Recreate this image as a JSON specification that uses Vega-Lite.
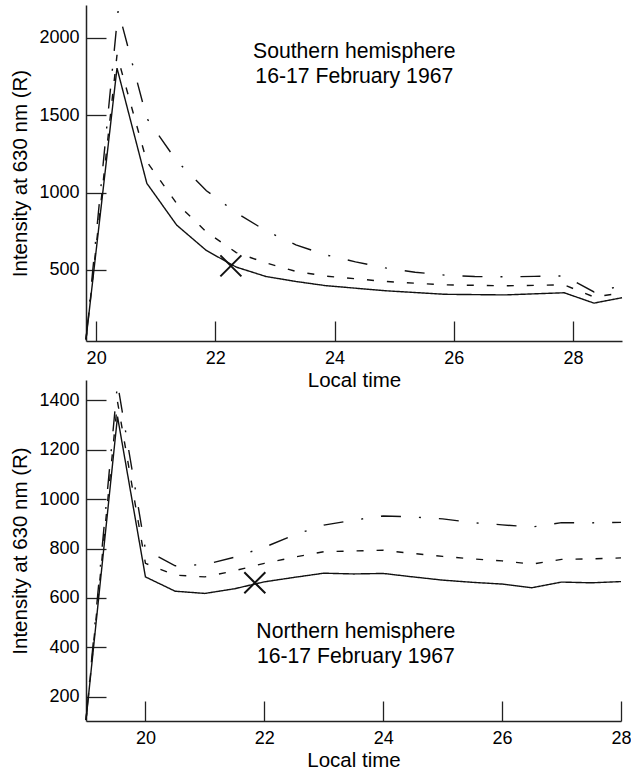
{
  "$schema": "https://vega.github.io/schema/vega-lite/v6.json",
  "padding": {"left": 10, "top": 5, "right": 1, "bottom": 5},
  "background": "white",
  "bounds": "flush",
  "spacing": 39,
  "config": {
    "view": {"stroke": null},
    "font": "Liberation Sans",
    "axis": {
      "grid": false,
      "domainColor": "#222",
      "domainWidth": 1.5,
      "tickColor": "#222",
      "tickWidth": 1.3,
      "tickSize": -20,
      "format": "d",
      "labelFont": "Liberation Sans",
      "labelFontSize": 18,
      "labelColor": "#000",
      "titleFont": "Liberation Sans",
      "titleFontSize": 20.5,
      "titleFontWeight": "normal",
      "titleColor": "#000"
    },
    "axisX": {"labelPadding": 28, "labelFlush": false, "titlePadding": 3},
    "axisY": {"labelPadding": 27, "titlePadding": 8}
  },
  "datasets": {
    "south": [
      {"series": "A", "t": 19.83, "v": 50}, {"series": "A", "t": 20.35, "v": 1805}, {"series": "A", "t": 20.85, "v": 1060},
      {"series": "A", "t": 21.35, "v": 790}, {"series": "A", "t": 21.85, "v": 625}, {"series": "A", "t": 22.35, "v": 518},
      {"series": "A", "t": 22.85, "v": 457}, {"series": "A", "t": 23.35, "v": 425}, {"series": "A", "t": 23.85, "v": 398},
      {"series": "A", "t": 24.85, "v": 365}, {"series": "A", "t": 25.85, "v": 342}, {"series": "A", "t": 26.85, "v": 338},
      {"series": "A", "t": 27.85, "v": 352}, {"series": "A", "t": 28.35, "v": 285}, {"series": "A", "t": 28.82, "v": 320},
      {"series": "B", "t": 19.83, "v": 50}, {"series": "B", "t": 20.35, "v": 1890}, {"series": "B", "t": 20.85, "v": 1200},
      {"series": "B", "t": 21.35, "v": 930}, {"series": "B", "t": 21.85, "v": 745}, {"series": "B", "t": 22.35, "v": 612},
      {"series": "B", "t": 22.85, "v": 545}, {"series": "B", "t": 23.35, "v": 490}, {"series": "B", "t": 23.85, "v": 460},
      {"series": "B", "t": 24.85, "v": 425}, {"series": "B", "t": 25.85, "v": 403}, {"series": "B", "t": 26.85, "v": 397},
      {"series": "B", "t": 27.85, "v": 403}, {"series": "B", "t": 28.35, "v": 325}, {"series": "B", "t": 28.82, "v": 351},
      {"series": "C", "t": 19.83, "v": 50}, {"series": "C", "t": 20.37, "v": 2180}, {"series": "C", "t": 20.85, "v": 1480},
      {"series": "C", "t": 21.35, "v": 1205}, {"series": "C", "t": 21.85, "v": 1012}, {"series": "C", "t": 22.35, "v": 870},
      {"series": "C", "t": 22.85, "v": 752}, {"series": "C", "t": 23.35, "v": 662}, {"series": "C", "t": 23.85, "v": 597},
      {"series": "C", "t": 24.35, "v": 552}, {"series": "C", "t": 24.85, "v": 513}, {"series": "C", "t": 25.35, "v": 485},
      {"series": "C", "t": 25.85, "v": 466}, {"series": "C", "t": 26.35, "v": 457}, {"series": "C", "t": 26.85, "v": 455},
      {"series": "C", "t": 27.35, "v": 458}, {"series": "C", "t": 27.85, "v": 461}, {"series": "C", "t": 28.35, "v": 357},
      {"series": "C", "t": 28.82, "v": 397}
    ],
    "north": [
      {"series": "A", "t": 19.0, "v": 105}, {"series": "A", "t": 19.53, "v": 1335}, {"series": "A", "t": 20.0, "v": 685},
      {"series": "A", "t": 20.5, "v": 627}, {"series": "A", "t": 21.0, "v": 618}, {"series": "A", "t": 21.5, "v": 637},
      {"series": "A", "t": 22.0, "v": 665}, {"series": "A", "t": 22.5, "v": 683}, {"series": "A", "t": 23.0, "v": 700},
      {"series": "A", "t": 23.5, "v": 697}, {"series": "A", "t": 24.0, "v": 699}, {"series": "A", "t": 24.5, "v": 685},
      {"series": "A", "t": 25.0, "v": 672}, {"series": "A", "t": 25.5, "v": 663}, {"series": "A", "t": 26.0, "v": 656},
      {"series": "A", "t": 26.5, "v": 641}, {"series": "A", "t": 27.0, "v": 664}, {"series": "A", "t": 27.5, "v": 661},
      {"series": "A", "t": 28.0, "v": 666},
      {"series": "B", "t": 19.0, "v": 105}, {"series": "B", "t": 19.53, "v": 1395}, {"series": "B", "t": 20.0, "v": 740},
      {"series": "B", "t": 20.5, "v": 692}, {"series": "B", "t": 21.0, "v": 685}, {"series": "B", "t": 21.5, "v": 710},
      {"series": "B", "t": 22.0, "v": 740}, {"series": "B", "t": 22.5, "v": 765}, {"series": "B", "t": 23.0, "v": 787},
      {"series": "B", "t": 23.5, "v": 790}, {"series": "B", "t": 24.0, "v": 793}, {"series": "B", "t": 24.5, "v": 780},
      {"series": "B", "t": 25.0, "v": 768}, {"series": "B", "t": 25.5, "v": 758}, {"series": "B", "t": 26.0, "v": 750},
      {"series": "B", "t": 26.5, "v": 737}, {"series": "B", "t": 27.0, "v": 756}, {"series": "B", "t": 27.5, "v": 758},
      {"series": "B", "t": 28.0, "v": 762},
      {"series": "C", "t": 19.0, "v": 105}, {"series": "C", "t": 19.53, "v": 1470}, {"series": "C", "t": 20.0, "v": 795},
      {"series": "C", "t": 20.5, "v": 730}, {"series": "C", "t": 21.0, "v": 735}, {"series": "C", "t": 21.5, "v": 765},
      {"series": "C", "t": 22.0, "v": 805}, {"series": "C", "t": 22.5, "v": 855}, {"series": "C", "t": 23.0, "v": 895},
      {"series": "C", "t": 23.5, "v": 915}, {"series": "C", "t": 24.0, "v": 932}, {"series": "C", "t": 24.5, "v": 928},
      {"series": "C", "t": 25.0, "v": 920}, {"series": "C", "t": 25.5, "v": 905}, {"series": "C", "t": 26.0, "v": 896},
      {"series": "C", "t": 26.5, "v": 887}, {"series": "C", "t": 27.0, "v": 905}, {"series": "C", "t": 27.5, "v": 904},
      {"series": "C", "t": 28.0, "v": 906}
    ],
    "southMark": [{"t": 22.26, "v": 526}],
    "northMark": [{"t": 21.84, "v": 661}],
    "southText": [
      {"t": 24.33, "v": 1872, "label": "Southern hemisphere"},
      {"t": 24.33, "v": 1710, "label": "16-17 February 1967"}
    ],
    "northText": [
      {"t": 23.54, "v": 436, "label": "Northern hemisphere"},
      {"t": 23.54, "v": 335, "label": "16-17 February 1967"}
    ]
  },
  "vconcat": [
    {
      "width": 536,
      "height": 336,
      "layer": [
        {
          "data": {"name": "south"},
          "mark": {"type": "line", "color": "#111", "strokeWidth": 1.4, "strokeCap": "butt"},
          "encoding": {
            "x": {"field": "t", "type": "quantitative", "title": "Local time",
                  "scale": {"domain": [19.83, 28.82], "nice": false, "zero": false},
                  "axis": {"values": [20, 22, 24, 26, 28]}},
            "y": {"field": "v", "type": "quantitative", "title": "Intensity at 630 nm (R)",
                  "scale": {"domain": [40, 2213], "nice": false, "zero": false},
                  "axis": {"values": [500, 1000, 1500, 2000]}},
            "detail": {"field": "series"},
            "strokeDash": {"field": "series", "legend": null,
                           "scale": {"domain": ["A", "B", "C"], "range": [[1, 0], [7, 13], [20, 18, 2, 18]]}}
          }
        },
        {
          "data": {"name": "southMark"},
          "mark": {"type": "point", "shape": "M-1,-1L1,1M-1,1L1,-1", "size": 441, "filled": false, "stroke": "#111", "strokeWidth": 2, "opacity": 1},
          "encoding": {
            "x": {"field": "t", "type": "quantitative"},
            "y": {"field": "v", "type": "quantitative"}
          }
        },
        {
          "data": {"name": "southText"},
          "mark": {"type": "text", "font": "Liberation Sans", "fontSize": 21.2, "color": "#000", "align": "center", "baseline": "alphabetic"},
          "encoding": {
            "x": {"field": "t", "type": "quantitative"},
            "y": {"field": "v", "type": "quantitative"},
            "text": {"field": "label"}
          }
        }
      ]
    },
    {
      "width": 535,
      "height": 341,
      "layer": [
        {
          "data": {"name": "north"},
          "mark": {"type": "line", "color": "#111", "strokeWidth": 1.4, "strokeCap": "butt"},
          "encoding": {
            "x": {"field": "t", "type": "quantitative", "title": "Local time",
                  "scale": {"domain": [19.0, 28.0], "nice": false, "zero": false},
                  "axis": {"values": [20, 22, 24, 26, 28]}},
            "y": {"field": "v", "type": "quantitative", "title": "Intensity at 630 nm (R)",
                  "scale": {"domain": [101, 1483], "nice": false, "zero": false},
                  "axis": {"values": [200, 400, 600, 800, 1000, 1200, 1400]}},
            "detail": {"field": "series"},
            "strokeDash": {"field": "series", "legend": null,
                           "scale": {"domain": ["A", "B", "C"], "range": [[1, 0], [7, 13], [20, 18, 2, 18]]}}
          }
        },
        {
          "data": {"name": "northMark"},
          "mark": {"type": "point", "shape": "M-1,-1L1,1M-1,1L1,-1", "size": 441, "filled": false, "stroke": "#111", "strokeWidth": 2, "opacity": 1},
          "encoding": {
            "x": {"field": "t", "type": "quantitative"},
            "y": {"field": "v", "type": "quantitative"}
          }
        },
        {
          "data": {"name": "northText"},
          "mark": {"type": "text", "font": "Liberation Sans", "fontSize": 21.2, "color": "#000", "align": "center", "baseline": "alphabetic"},
          "encoding": {
            "x": {"field": "t", "type": "quantitative"},
            "y": {"field": "v", "type": "quantitative"},
            "text": {"field": "label"}
          }
        }
      ]
    }
  ]
}
